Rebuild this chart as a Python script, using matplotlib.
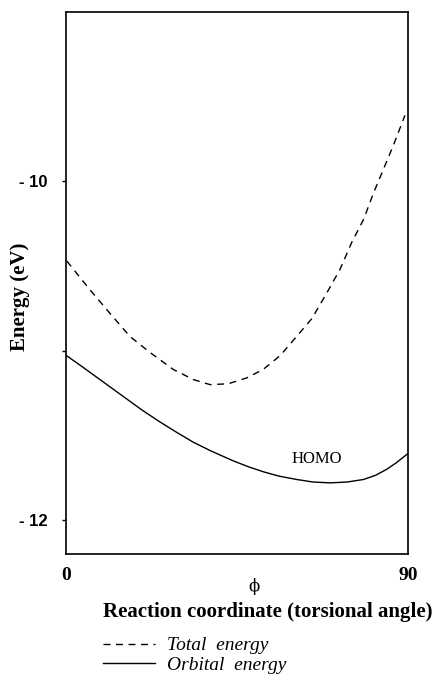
import numpy as np
import matplotlib
matplotlib.use("Agg")
import matplotlib.pyplot as plt

# values
phi_total = [0.2, 6.3, 11.6, 16.8, 22.1, 28.2, 33.5, 37.9, 42.7, 47.6, 51.9, 56.3,
             60.7, 64.7, 68.6, 72.1, 75.2, 78.3, 80.9, 83.5, 86.1, 89.2]
e_total = [-10.47, -10.64, -10.78, -10.915, -11.01, -11.11, -11.17, -11.20, -11.195, -11.16, -11.11, -11.03,
           -10.915, -10.81, -10.66, -10.52, -10.36, -10.225, -10.07, -9.93, -9.79, -9.61]

phi_orb = [0.2, 4, 8, 12, 16, 20, 24.7, 29, 33.5, 38, 44, 48, 52, 56, 60.7, 65,
           69.5, 74, 78.3, 81.5, 84.4, 87, 89.8]
e_orb = [-11.03, -11.09, -11.155, -11.22, -11.285, -11.35, -11.42, -11.48, -11.54, -11.59, -11.65, -11.685,
         -11.715, -11.74, -11.76, -11.775, -11.78, -11.775, -11.76, -11.735, -11.70, -11.66, -11.61]

y_ticks = [-12, -11, -10]
y_labels = ["- 12", "", "- 10"]
x_ticks = [0, 90]
x_labels = ["0", "90"]

serif = "Liberation Serif"
sans = "Liberation Sans"

fig = plt.figure(figsize=(4.35, 6.77), dpi=100)
ax = fig.add_axes([66 / 435, 1 - 554 / 677, (408 - 66) / 435, (554 - 12) / 677])

l1, = ax.plot(phi_total, e_total, color="black", lw=1.0, ls=(0, (5, 4)), label="Total  energy")
l2, = ax.plot(phi_orb, e_orb, color="black", lw=1.0, label="Orbital  energy")

ax.set_xlim(0, 90)
ax.set_ylim(-12.2, -9.0)

ax.set_yticks(y_ticks)
ax.set_yticklabels(y_labels, fontfamily=sans, fontsize=12, fontweight="bold")
ax.set_xticks(x_ticks)
ax.set_xticklabels(x_labels, fontfamily=serif, fontsize=14, fontweight="bold")
ax.tick_params(axis="y", direction="out", length=3, width=1, pad=10)
ax.tick_params(axis="x", length=0, pad=9)
for s in ax.spines.values():
    s.set_linewidth(1.2)

ax.text(65.9, -11.64, "HOMO", fontfamily=serif, fontsize=12, ha="center", va="center")
ax.text(49.5, -12.39, "ϕ", fontfamily="DejaVu Serif", fontsize=12, ha="center", va="center")

fig.text(268 / 435, 1 - 612 / 677, "Reaction coordinate (torsional angle)",
         fontfamily=serif, fontsize=15, fontweight="bold", ha="center", va="center")
fig.text(20 / 435, 1 - 297 / 677, "Energy (eV)", fontfamily=serif, fontsize=15,
         fontweight="bold", rotation=90, ha="center", va="center")

fig.legend(handles=[l1, l2], loc="upper left", bbox_to_anchor=(93 / 435, 1 - 627 / 677),
           frameon=False, prop={"family": serif, "style": "italic", "size": 14},
           handlelength=2.7, handletextpad=0.6, labelspacing=0.12, borderpad=0)

fig.savefig("out.png", dpi=100)
